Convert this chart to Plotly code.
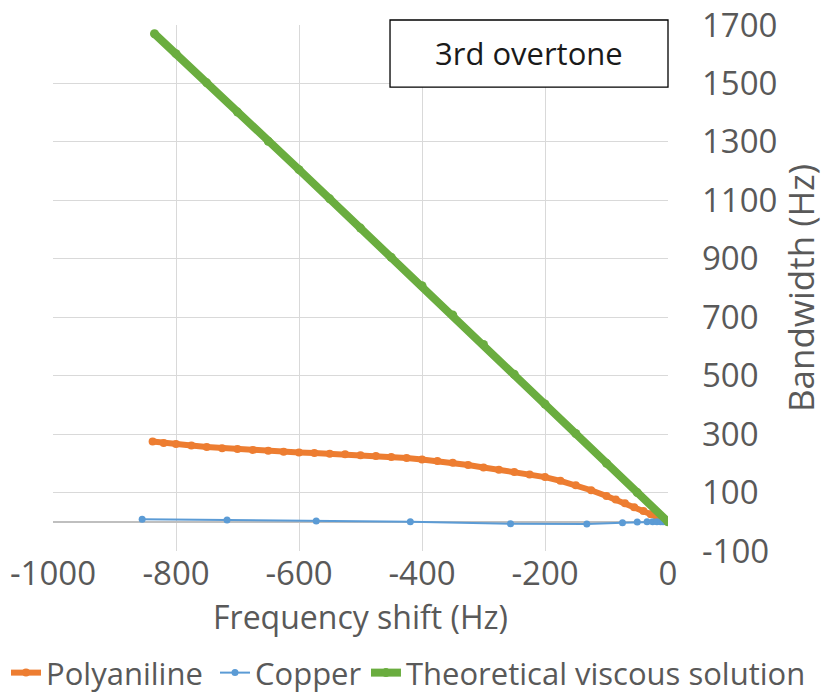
import plotly.graph_objects as go

# Polyaniline (orange)
poly_x = [-838, -820, -800, -775, -750, -725, -700, -675, -650, -625, -600, -575, -550, -525, -500,
          -475, -450, -425, -400, -375, -350, -325, -300, -275, -250, -225, -200, -175, -150,
          -125, -100, -85, -70, -55, -40, -28, -18, -10, -4, 0]
poly_y = [275, 270, 266, 261, 256, 252, 249, 246, 243, 240, 237, 235, 233, 231, 228,
          225, 222, 218, 213, 208, 202, 194, 186, 178, 170, 162, 153, 140, 125,
          108, 88, 76, 63, 50, 37, 26, 17, 9, 4, 0]

# Copper (blue)
cu_x = [-855, -717, -572, -419, -256, -132, -74, -50, -34, -25, -18, -12, -8, -4, -2, 0]
cu_y = [9, 6, 3, 0, -7, -8, -3, -1, 0, 0, 0, 0, 0, 0, 0, 0]

# Theoretical viscous solution (green)
th_x = [-835, -800, -750, -700, -650, -600, -550, -500, -450, -400, -350, -300, -250,
        -200, -150, -100, -50, 0]
th_y = [1670, 1602, 1502, 1402, 1302, 1205, 1105, 1005, 905, 808, 708, 607, 505,
        403, 302, 200, 100, 0]

x_ticks = [-1000, -800, -600, -400, -200, 0]
x_ticktext = ["-1000", "-800", "-600", "-400", "-200", "0"]
y_ticks = [-100, 100, 300, 500, 700, 900, 1100, 1300, 1500, 1700]
y_ticktext = ["-100", "100", "300", "500", "700", "900", "1100", "1300", "1500", "1700"]

FONT = "Open Sans"
GREY = "#595959"

fig = go.Figure()
fig.add_trace(go.Scatter(x=poly_x, y=poly_y, name="Polyaniline", mode="lines+markers",
                         line=dict(color="#ED7D31", width=6),
                         marker=dict(color="#ED7D31", size=8), legend="legend"))
fig.add_trace(go.Scatter(x=cu_x, y=cu_y, name="Copper", mode="lines+markers",
                         line=dict(color="#5B9BD5", width=2),
                         marker=dict(color="#5B9BD5", size=7), legend="legend2"))
fig.add_trace(go.Scatter(x=th_x, y=th_y, name="Theoretical viscous solution", mode="lines+markers",
                         line=dict(color="#6AAD3F", width=8),
                         marker=dict(color="#6AAD3F", size=9), legend="legend3"))


def leg(x):
    return dict(orientation="h", xref="container", yref="container",
                x=x, xanchor="left", y=0.0289, yanchor="middle",
                font=dict(size=31, color=GREY), itemwidth=30, borderwidth=0,
                bgcolor="rgba(0,0,0,0)")


fig.update_layout(
    width=825, height=693,
    margin=dict(l=53, r=157, t=25, b=142, autoexpand=False),
    plot_bgcolor="white", paper_bgcolor="white",
    font=dict(family=FONT, size=30, color=GREY),
    showlegend=True,
    legend=leg(0.0073), legend2=leg(0.2606), legend3=leg(0.4436),
    xaxis=dict(range=[-1000, 0], tickvals=x_ticks, ticktext=x_ticktext,
               showgrid=True, gridcolor="#d9d9d9", gridwidth=1,
               zeroline=False, showline=False, ticks="", automargin=True,
               tickfont=dict(size=33, color=GREY),
               title=dict(text="Frequency shift (Hz)", standoff=8, font=dict(size=32, color=GREY))),
    yaxis=dict(range=[-100, 1700], side="right", tickvals=y_ticks, ticktext=y_ticktext,
               showgrid=True, gridcolor="#d9d9d9", gridwidth=1,
               zeroline=True, zerolinecolor="#bfbfbf", zerolinewidth=1.5,
               showline=False, ticks="", ticklabelstandoff=33, automargin=True,
               tickfont=dict(size=33, color=GREY),
               title=dict(text="Bandwidth (Hz)", standoff=6, font=dict(size=35, color=GREY))),
)

fig.add_shape(type="rect", xref="paper", yref="paper", x0=0.548, x1=1.0, y0=0.882, y1=1.0095,
              line=dict(color="#000000", width=1.3), fillcolor="white", layer="above")
fig.add_annotation(xref="paper", yref="paper", x=0.774, y=0.946, text="3rd overtone",
                   showarrow=False, font=dict(family=FONT, size=31, color="#1a1a1a"),
                   xanchor="center", yanchor="middle")

fig.write_html("out.html", config={"displayModeBar": False},
               post_script="document.body.style.margin='0px';")
